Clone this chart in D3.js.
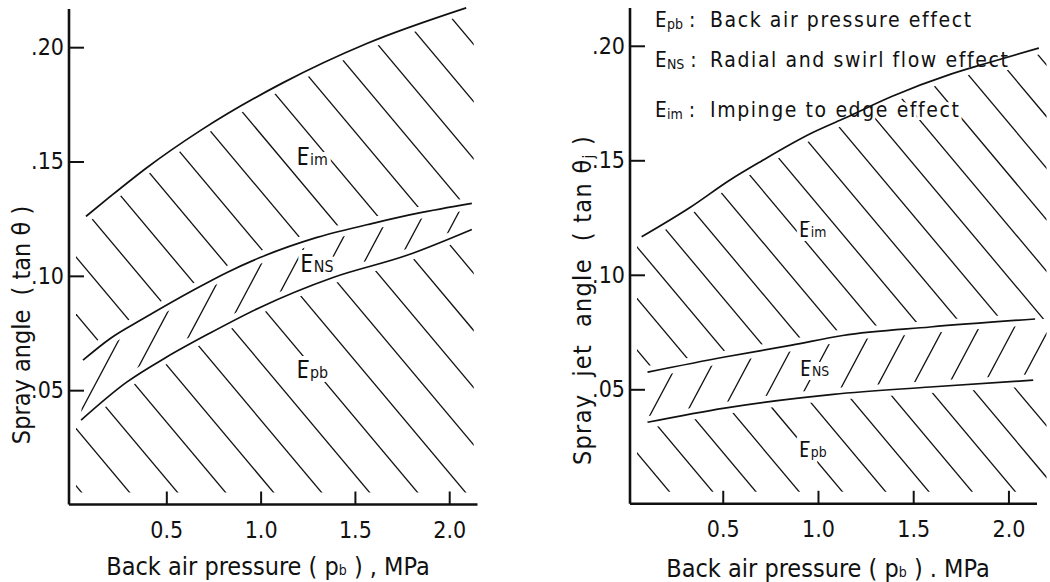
<!DOCTYPE html>
<html>
<head>
<meta charset="utf-8">
<script src="https://d3js.org/d3.v7.min.js"></script>
<style>
body { margin: 0; background: #fff; }
text { font-family: "Liberation Sans Narrow", "DejaVu Sans Condensed", "Arial Narrow", "DejaVu Sans", sans-serif; fill: #111; white-space: pre; }
</style>
</head>
<body>
<svg width="1050" height="582"></svg>
<script>
const xTicks = [0.5, 1.0, 1.5, 2.0];
const xTickLabels = ["0.5", "1.0", "1.5", "2.0"];
const yTicks = [0.05, 0.10, 0.15, 0.20];
const yTickLabels = [".05", ".10", ".15", ".20"];

// left chart: spray angle (tan theta) vs back air pressure
const leftUpper = [[0.074, 0.126], [0.2, 0.1345], [0.40, 0.1475], [0.68, 0.1635], [1.12, 0.1845], [1.56, 0.2015], [2.09, 0.2172]];
const leftMiddle = [[0.058, 0.0631], [0.201, 0.0725], [0.376, 0.0812], [0.642, 0.0937], [0.822, 0.1015], [0.997, 0.108], [1.299, 0.1168], [1.617, 0.1234], [1.829, 0.1273], [2.12, 0.1317]];
const leftLower = [[0.048, 0.0369], [0.29, 0.0535], [0.50, 0.0644], [0.73, 0.0749], [0.997, 0.0862], [1.384, 0.0993], [1.776, 0.109], [2.12, 0.1203]];

// right chart: spray jet angle (tan theta_j) vs back air pressure
const rightUpper = [[0.074, 0.1166], [0.33, 0.1295], [0.54, 0.1415], [0.70, 0.1495], [0.97, 0.162], [1.13, 0.168], [1.39, 0.178], [1.69, 0.1874], [1.89, 0.1925], [2.16, 0.199]];
const rightMiddle = [[0.105, 0.0575], [0.51, 0.0641], [0.863, 0.0693], [1.13, 0.0735], [1.589, 0.0772], [2.14, 0.0807]];
const rightLower = [[0.105, 0.0356], [0.51, 0.0418], [1.08, 0.0478], [1.589, 0.051], [2.13, 0.054]];

// region labels: [main, subscript, x, y]
const leftLabels = [["E", "im", 1.19, 0.1483], ["E", "NS", 1.21, 0.1017], ["E", "pb", 1.19, 0.0552]];
const rightLabels = [["E", "im", 0.90, 0.1164], ["E", "NS", 0.906, 0.0558], ["E", "pb", 0.90, 0.0206]];

const legendRows = [["pb", "Back air pressure effect"], ["NS", "Radial and swirl flow effect"], ["im", "Impinge to edge effect"]];

const svg = d3.select("svg");

function drawPanel(cfg) {
    const g = svg.append("g");
    const x = d3.scaleLinear().domain(cfg.xDomain).range(cfg.xRange);
    const y = d3.scaleLinear().domain(cfg.yDomain).range(cfg.yRange);
    const line = d3.line().x(d => x(d[0])).y(d => y(d[1])).curve(d3.curveMonotoneX);

    const x0 = cfg.xRange[0], yBase = cfg.yRange[0];
    const xEnd = cfg.hatchRight;

    // regions between the curves
    const up = cfg.upper, mid = cfg.middle, low = cfg.lower;
    const imPts = [[cfg.xDomain[0], up[0][1]]].concat(up, [[xEnd, up[up.length - 1][1]], [xEnd, mid[mid.length - 1][1]]], mid.slice().reverse(), [[cfg.xDomain[0], mid[0][1]]]);
    const nsPts = mid.concat([[xEnd, mid[mid.length - 1][1]], [xEnd, low[low.length - 1][1]]], low.slice().reverse());
    const pbPts = [[cfg.xDomain[0], low[0][1]]].concat(low, [[xEnd, low[low.length - 1][1]], [xEnd, 0], [cfg.xDomain[0], 0]]);

    const poly = d3.line().x(d => x(d[0])).y(d => y(d[1]));
    const defs = svg.append("defs");
    defs.append("clipPath").attr("id", cfg.id + "-box")
        .append("rect")
        .attr("x", x0 + 7).attr("y", 0)
        .attr("width", 600).attr("height", yBase - 12);

    const regions = [
        { key: "im", pts: imPts, dir: "back" },
        { key: "ns", pts: nsPts, dir: "fwd" },
        { key: "pb", pts: pbPts, dir: "back" }
    ];

    const hatchG = g.append("g").attr("clip-path", `url(#${cfg.id}-box)`);
    regions.forEach(r => {
        defs.append("clipPath").attr("id", cfg.id + "-" + r.key)
            .append("path").attr("d", poly(r.pts) + "Z");
        const h = cfg.hatch[r.dir];
        const cs = d3.range(h.phase - 60 * h.step, h.phase + 60 * h.step, h.step)
            .filter(c => c > -600 && c < 1500);
        hatchG.append("g").attr("clip-path", `url(#${cfg.id}-${r.key})`)
            .selectAll("line").data(cs).join("line")
            .attr("x1", c => c).attr("y1", 0)
            .attr("x2", c => c + h.k * 582).attr("y2", 582)
            .attr("stroke", "#111").attr("stroke-width", 1.3);
    });

    // white gaps along curves
    [up, mid, low].forEach(pts => {
        g.append("path").attr("d", line(pts))
            .attr("fill", "none").attr("stroke", "#fff").attr("stroke-width", 12);
    });

    // region labels
    const lab = g.selectAll(".rlab").data(cfg.labels).join("text")
        .attr("class", "rlab")
        .attr("x", d => x(d[2])).attr("y", d => y(d[3]))
        .attr("font-size", cfg.labelSize)
        .attr("stroke", "#fff").attr("stroke-width", 8).attr("paint-order", "stroke");
    lab.append("tspan").text(d => d[0]);
    lab.append("tspan").attr("font-size", cfg.labelSize * 0.66).text(d => d[1]);

    if (cfg.legend) {
        const lg = g.append("g");
        const rowsY = [27, 67, 117];
        cfg.legend.forEach((row, i) => {
            const t = lg.append("text").attr("x", 655).attr("y", rowsY[i])
                .attr("font-size", 21)
                .attr("stroke", "#fff").attr("stroke-width", 6).attr("paint-order", "stroke");
            t.append("tspan").text("E");
            t.append("tspan").attr("font-size", 14).attr("dy", 2).text(row[0]);
            t.append("tspan").attr("dy", -2).text(" :");
            lg.append("text").attr("x", 710).attr("y", rowsY[i])
                .attr("font-size", 21).attr("letter-spacing", 1.6)
                .attr("stroke", "#fff").attr("stroke-width", 6).attr("paint-order", "stroke")
                .text(row[1]);
        });
    }

    // curves
    [up, mid, low].forEach(pts => {
        g.append("path").attr("d", line(pts))
            .attr("fill", "none").attr("stroke", "#111").attr("stroke-width", 1.7);
    });

    // axes
    const xAxis = d3.axisBottom(x).tickValues(xTicks).tickSize(-13).tickFormat((d, i) => xTickLabels[i]).tickPadding(17);
    const gx = g.append("g").attr("transform", `translate(0,${yBase})`).call(xAxis);
    gx.select(".domain").attr("d", `M${x0},0H${cfg.xRange[1]}`).attr("stroke", "#111").attr("stroke-width", 2.4);
    gx.selectAll(".tick line").attr("stroke", "#111").attr("stroke-width", 2);
    gx.selectAll(".tick text").attr("font-size", 23).attr("font-family", null).attr("fill", "#111");

    const yAxis = d3.axisLeft(y).tickValues(yTicks).tickSize(-15).tickFormat((d, i) => yTickLabels[i]).tickPadding(6);
    const gy = g.append("g").attr("transform", `translate(${x0},0)`).call(yAxis);
    gy.select(".domain").attr("d", `M0,${cfg.yRange[1]}V${yBase}`).attr("stroke", "#111").attr("stroke-width", 2.6);
    gy.selectAll(".tick line").attr("stroke", "#111").attr("stroke-width", 2);
    gy.selectAll(".tick text").attr("font-size", 23).attr("font-family", null).attr("fill", "#111").attr("x", -5);

    // axis titles
    const xt = g.append("text").attr("x", cfg.xTitleX).attr("y", cfg.xTitleY)
        .attr("text-anchor", "middle").attr("font-size", 25);
    xt.append("tspan").text("Back air pressure ( p");
    xt.append("tspan").attr("font-size", 14).text("b");
    xt.append("tspan").text(cfg.xTitleEnd);

    const yt = g.append("text")
        .attr("transform", `translate(${cfg.yTitleX},${cfg.yTitleY}) rotate(-90)`)
        .attr("text-anchor", "middle").attr("font-size", 25)
        .attr("letter-spacing", cfg.yTitleSpacing);
    yt.append("tspan").text(cfg.yTitle);
    if (cfg.yTitleSub) {
        yt.append("tspan").attr("font-size", 15).attr("dy", 3).text(cfg.yTitleSub);
        yt.append("tspan").attr("dy", -3).text(" )");
    }
}

drawPanel({
    id: "left",
    xDomain: [-0.016, 2.15], xRange: [69, 477.5],
    yDomain: [0, 0.2167], yRange: [504.5, 9],
    upper: leftUpper, middle: leftMiddle, lower: leftLower,
    hatchRight: 2.13,
    hatch: { back: { k: 0.839, step: 48, phase: 4.4 }, fwd: { k: -0.5317, step: 34, phase: 299.6 } },
    labels: leftLabels, labelSize: 24,
    xTitleX: 268, xTitleY: 575, xTitleEnd: " ) , MPa",
    yTitleX: 30, yTitleY: 325, yTitle: "Spray angle  ( tan θ )", yTitleSpacing: 0
});

drawPanel({
    id: "right",
    xDomain: [0.013, 2.15], xRange: [630, 1037],
    yDomain: [0, 0.2165], yRange: [503.8, 8],
    upper: rightUpper, middle: rightMiddle, lower: rightLower,
    hatchRight: 2.2,
    hatch: { back: { k: 0.839, step: 43.24, phase: 256.9 }, fwd: { k: -0.5317, step: 35.3, phase: 1047.3 } },
    labels: rightLabels, labelSize: 21,
    legend: legendRows,
    xTitleX: 828, xTitleY: 577, xTitleEnd: " ) . MPa",
    yTitleX: 591, yTitleY: 300, yTitle: "Spray  jet  angle  ( tan θ", yTitleSub: "j", yTitleSpacing: 1.3
});
</script>
</body>
</html>
